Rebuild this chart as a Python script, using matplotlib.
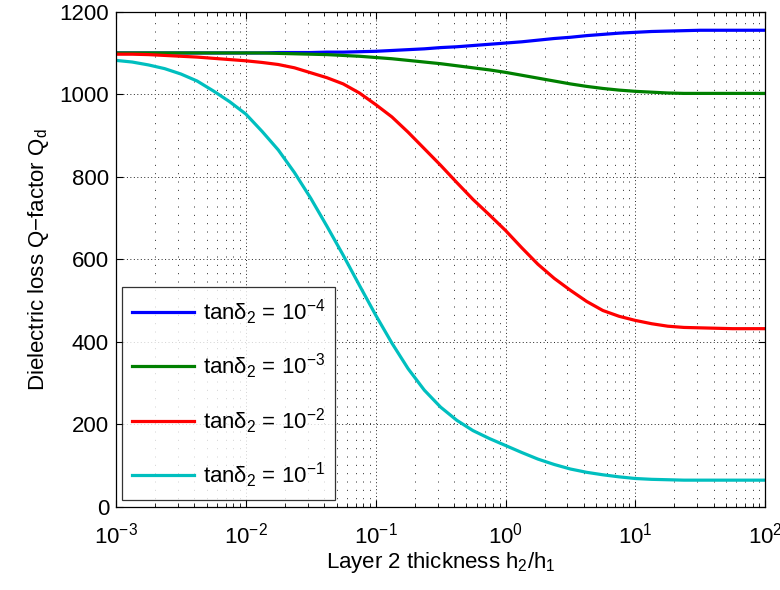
import numpy as np
import matplotlib
matplotlib.use("Agg")
import matplotlib.pyplot as plt

plt.rcParams['font.family'] = ['Liberation Sans', 'DejaVu Sans']
plt.rcParams['mathtext.fontset'] = 'custom'
plt.rcParams['mathtext.rm'] = 'Liberation Sans'
plt.rcParams['mathtext.it'] = 'Liberation Sans'
plt.rcParams['mathtext.default'] = 'regular'
plt.rcParams['lines.scale_dashes'] = False

# layer 2 thickness h2/h1 (eighth decades from 1e-3 to 1e2)
h_ratio = [1e-3, 1.334e-3, 1.778e-3, 2.371e-3, 3.162e-3, 4.217e-3, 5.623e-3, 7.499e-3,
           1e-2, 1.334e-2, 1.778e-2, 2.371e-2, 3.162e-2, 4.217e-2, 5.623e-2, 7.499e-2,
           0.1, 0.1334, 0.1778, 0.2371, 0.3162, 0.4217, 0.5623, 0.7499,
           1.0, 1.334, 1.778, 2.371, 3.162, 4.217, 5.623, 7.499,
           10.0, 13.34, 17.78, 23.71, 31.62, 42.17, 56.23, 74.99, 100.0]

# Q_d for each tan(delta_2)
q_tan4 = [1100, 1100, 1100, 1100, 1100, 1100, 1100, 1100, 1100, 1100, 1101,
          1101, 1101, 1102, 1102, 1103, 1104, 1106, 1108, 1110, 1113, 1115,
          1118, 1121, 1124, 1127, 1131, 1135, 1138, 1142, 1145, 1148, 1150,
          1152, 1153, 1154, 1155, 1155, 1155, 1155, 1155]
q_tan3 = [1100, 1100, 1100, 1100, 1100, 1100, 1100, 1100, 1100, 1100, 1099,
          1098, 1097, 1096, 1094, 1092, 1089, 1086, 1082, 1078, 1074, 1069,
          1064, 1059, 1053, 1046, 1039, 1032, 1025, 1019, 1014, 1010, 1007,
          1005, 1003, 1002, 1002, 1002, 1002, 1002, 1002]
q_tan2 = [1097, 1097, 1096, 1094, 1092, 1090, 1087, 1084, 1081, 1077, 1072,
          1064, 1052, 1040, 1025, 1003, 975, 945, 908, 868, 828, 786,
          745, 708, 670, 628, 588, 554, 525, 498, 476, 462, 452,
          444, 438, 435, 434, 433, 432, 432, 432]
q_tan1 = [1082, 1078, 1071, 1062, 1049, 1032, 1008, 982, 952, 910, 865,
          810, 748, 680, 610, 537, 465, 397, 335, 283, 242, 210,
          185, 166, 149, 132, 116, 103, 92, 84, 78, 73, 69,
          67, 66, 65, 65, 65, 65, 65, 65]

labels = [r'tan$\delta_2$ = 10$^{-4}$', r'tan$\delta_2$ = 10$^{-3}$',
          r'tan$\delta_2$ = 10$^{-2}$', r'tan$\delta_2$ = 10$^{-1}$']
colors = ['#0000ff', '#008000', '#ff0000', '#00bfbf']

fig = plt.figure(figsize=(7.8, 5.9), dpi=100)
ax = fig.add_axes([0.1487, 0.1407, 0.8323, 0.8395])

for q, lab, c in zip([q_tan4, q_tan3, q_tan2, q_tan1], labels, colors):
    ax.plot(h_ratio, q, color=c, lw=2.3, label=lab)

ax.set_xscale('log')
ax.set_xlim(1e-3, 1e2)
ax.set_ylim(0, 1200)
ax.set_yticks(np.arange(0, 1201, 200))

ax.grid(True, which='major', color='k', lw=0.6, linestyle=(0, (0.7, 1.8)))
ax.grid(True, which='minor', axis='x', color='k', lw=0.6, linestyle=(0, (0.7, 5.3)))
ax.set_axisbelow(True)

ax.tick_params(which='both', direction='in', top=True, right=True, labelsize=16)
ax.tick_params(which='major', length=5)
ax.tick_params(which='minor', length=3)
ax.tick_params(axis='x', pad=11)
ax.tick_params(axis='y', pad=5)

ax.set_xlabel(r'Layer 2 thickness h$_2$/h$_1$', fontsize=16, labelpad=1)
ax.set_ylabel('Dielectric loss Q\u2212factor Q$_d$', fontsize=16, labelpad=6)

leg = ax.legend(loc='lower left', fontsize=16, frameon=True, fancybox=False,
                edgecolor='k', handlelength=2.8, handletextpad=0.4,
                labelspacing=1.12, borderpad=0.45, borderaxespad=0,
                bbox_to_anchor=(0.009, 0.014))
leg.get_frame().set_linewidth(0.9)

for s in ax.spines.values():
    s.set_linewidth(0.9)

fig.savefig('out.png', dpi=100)
